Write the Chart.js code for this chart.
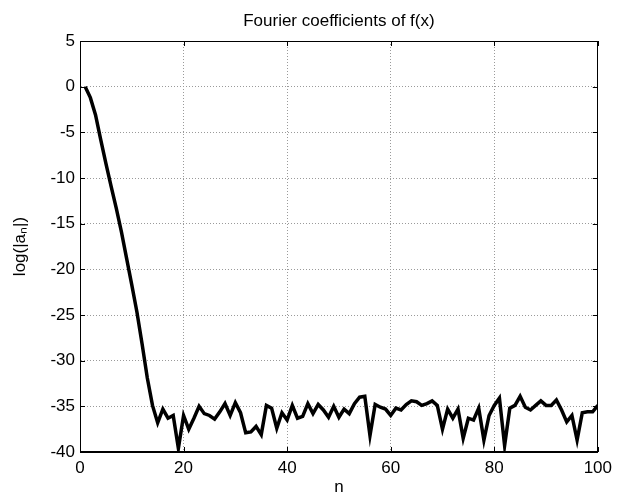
<!DOCTYPE html>
<html>
<head>
<meta charset="utf-8">
<script src="https://cdn.jsdelivr.net/npm/chart.js@4.4.1/dist/chart.umd.min.js"></script>
<style>
html,body{margin:0;padding:0;background:#fff;}
#wrap{width:618px;height:494px;}
</style>
</head>
<body>
<div id="wrap"><canvas id="c" width="618" height="494"></canvas></div>
<script>
const chartTitle = 'Fourier coefficients of f(x)';
const xLabel = 'n';
const yLabel = 'log(|a\u2099|)';
const nValues = [1,2,3,4,5,6,7,8,9,10,11,12,13,14,15,16,17,18,19,20,
21,22,23,24,25,26,27,28,29,30,31,32,33,34,35,36,37,38,39,40,
41,42,43,44,45,46,47,48,49,50,51,52,53,54,55,56,57,58,59,60,
61,62,63,64,65,66,67,68,69,70,71,72,73,74,75,76,77,78,79,80,
81,82,83,84,85,86,87,88,89,90,91,92,93,94,95,96,97,98,99,100];
const logAn = [0,-1.2,-3.1,-5.8,-8.4,-10.9,-13.3,-15.9,-18.8,-21.7,
-24.7,-28.2,-31.9,-34.9,-36.8,-35.3,-36.3,-36.0,-39.6,-36.0,
-37.5,-36.3,-35.0,-35.8,-36.0,-36.4,-35.6,-34.7,-36.0,-34.6,
-35.7,-37.9,-37.8,-37.2,-38.1,-34.9,-35.2,-37.4,-35.7,-36.5,
-34.9,-36.3,-36.1,-34.7,-35.8,-34.8,-35.4,-36.2,-35.0,-36.2,
-35.3,-35.8,-34.7,-34.0,-33.9,-38.2,-34.8,-35.1,-35.3,-36.0,
-35.2,-35.4,-34.8,-34.4,-34.5,-34.9,-34.7,-34.4,-34.9,-37.5,
-35.3,-36.3,-35.3,-38.5,-36.3,-36.5,-35.2,-38.7,-36.0,-34.9,
-34.1,-39.3,-35.2,-34.9,-33.9,-35.1,-35.4,-34.9,-34.4,-34.9,
-34.9,-34.3,-35.4,-36.7,-36.0,-38.7,-35.7,-35.6,-35.6,-34.9];
const xRange = [0, 100];
const yRange = [-40, 5];
const xStep = 20;
const yStep = 5;

Chart.defaults.font.family = '"Liberation Sans", Arial, Helvetica, sans-serif';
Chart.defaults.font.size = 17;
Chart.defaults.color = '#000';

const frame = {
  id: 'frame',
  afterDatasetsDraw(chart) {
    const {ctx, chartArea: a, scales} = chart;
    const L = 5;
    ctx.save();
    ctx.strokeStyle = '#000';
    ctx.lineWidth = 1;
    ctx.beginPath();
    scales.x.ticks.forEach(t => {
      const p = Math.round(scales.x.getPixelForValue(t.value)) + 0.5;
      ctx.moveTo(p, a.bottom); ctx.lineTo(p, a.bottom - L);
      ctx.moveTo(p, a.top); ctx.lineTo(p, a.top + L);
    });
    scales.y.ticks.forEach(t => {
      const p = Math.round(scales.y.getPixelForValue(t.value)) + 0.5;
      ctx.moveTo(a.left, p); ctx.lineTo(a.left + L, p);
      ctx.moveTo(a.right, p); ctx.lineTo(a.right - L, p);
    });
    ctx.stroke();
    ctx.strokeRect(Math.round(a.left) + 0.5, Math.round(a.top) + 0.5,
      Math.round(a.right - a.left) - 1, Math.round(a.bottom - a.top) - 1);
    ctx.restore();
  }
};

new Chart(document.getElementById('c'), {
  type: 'line',
  data: {
    datasets: [{
      data: nValues.map((v, i) => ({x: v, y: logAn[i]})),
      borderColor: '#000',
      borderWidth: 3.5,
      pointRadius: 0,
      tension: 0,
      fill: false
    }]
  },
  options: {
    responsive: false,
    animation: false,
    devicePixelRatio: 1,
    layout: {padding: {left: 0, right: 18, top: 0, bottom: 0}},
    plugins: {
      legend: {display: false},
      tooltip: {enabled: false},
      title: {
        display: true,
        text: chartTitle,
        fullSize: false,
        color: '#000',
        font: {size: 17, weight: 'normal'},
        padding: {top: 11, bottom: 9.6}
      }
    },
    scales: {
      x: {
        type: 'linear',
        min: xRange[0], max: xRange[1],
        ticks: {stepSize: xStep, padding: 6, color: '#000', font: {size: 17}},
        grid: {color: '#9a9a9a', lineWidth: 1, drawTicks: false},
        border: {display: true, color: '#000', dash: [1, 2]},
        title: {display: true, text: xLabel, color: '#000', font: {size: 17}, padding: {top: 0, bottom: -4}},
        afterFit(s) { s.height = 42; }
      },
      y: {
        type: 'linear',
        min: yRange[0], max: yRange[1],
        ticks: {stepSize: yStep, padding: 5, color: '#000', font: {size: 17}},
        grid: {color: '#9a9a9a', lineWidth: 1, drawTicks: false},
        border: {display: true, color: '#000', dash: [1, 2]},
        title: {display: true, text: yLabel, color: '#000', font: {size: 17}, padding: {top: 10, bottom: 0}},
        afterFit(s) { s.width = 80; }
      }
    }
  },
  plugins: [frame]
});
</script>
</body>
</html>
